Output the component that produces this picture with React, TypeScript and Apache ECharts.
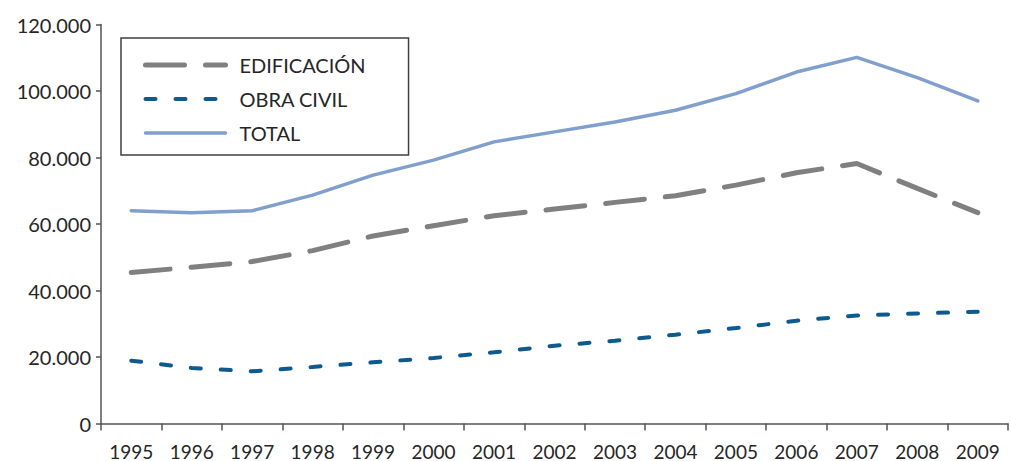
import React, { useEffect, useRef } from "react";
import * as echarts from "echarts";

const years = ["1995","1996","1997","1998","1999","2000","2001","2002","2003","2004","2005","2006","2007","2008","2009"];
const edificacion = [45400, 47000, 48700, 52000, 56400, 59500, 62500, 64500, 66500, 68500, 71700, 75400, 78200, 70700, 63400];
const obraCivil = [18900, 16700, 15700, 17000, 18400, 19700, 21400, 23400, 24900, 26700, 28700, 30900, 32500, 33100, 33600];
const total = [64000, 63400, 64000, 68700, 74700, 79200, 84700, 87700, 90700, 94200, 99200, 105700, 110100, 104000, 97000];

const FONT = "Lato";
const TEXT = "#262626";
const AXIS = "#555555";

function fmt(v: number): string {
  return String(v).replace(/\B(?=(\d{3})+(?!\d))/g, ".");
}

export default function App() {
  const ref = useRef<HTMLDivElement>(null);
  useEffect(() => {
    if (!ref.current) return;
    const chart = echarts.init(ref.current, undefined, { renderer: "svg" });
    chart.setOption({
      animation: false,
      backgroundColor: "#ffffff",
      grid: { left: 101, right: 3, top: 24.5, bottom: 37.5, containLabel: false },
      legend: {
        orient: "vertical",
        left: 121,
        top: 38,
        itemWidth: 80,
        itemHeight: 20,
        itemGap: 14,
        padding: [17, 43, 12, 22],
        borderColor: "#404040",
        borderWidth: 1.5,
        backgroundColor: "#ffffff",
        itemStyle: { opacity: 0 },
        lineStyle: { width: "inherit", type: "inherit", cap: "round" },
        textStyle: { fontFamily: FONT, fontSize: 20, color: TEXT, padding: [0, 0, 0, 9] },
        data: ["EDIFICACIÓN", "OBRA CIVIL", "TOTAL"],
      },
      xAxis: {
        type: "category",
        data: years,
        boundaryGap: true,
        axisLine: { lineStyle: { color: AXIS, width: 1.5 } },
        axisTick: { show: true, length: 7, lineStyle: { color: AXIS, width: 1.5 } },
        axisLabel: { fontFamily: FONT, fontSize: 19, color: TEXT, margin: 18, interval: 0 },
        splitLine: { show: false },
      },
      yAxis: {
        type: "value",
        min: 0,
        max: 120000,
        interval: 20000,
        axisLine: { show: true, lineStyle: { color: AXIS, width: 1.5 } },
        axisTick: { show: true, length: 5, lineStyle: { color: AXIS, width: 1.5 } },
        axisLabel: { fontFamily: FONT, fontSize: 20, color: TEXT, margin: 10, formatter: (v: number) => fmt(v) },
        splitLine: { show: false },
      },
      series: [
        {
          name: "EDIFICACIÓN",
          type: "line",
          data: edificacion,
          symbol: "none",
          lineStyle: { color: "#808080", width: 5, type: [39, 21], cap: "round" },
          itemStyle: { color: "#808080" },
        },
        {
          name: "OBRA CIVIL",
          type: "line",
          data: obraCivil,
          symbol: "none",
          lineStyle: { color: "#0d5a8e", width: 4, type: [10, 20], cap: "round" },
          itemStyle: { color: "#0d5a8e" },
        },
        {
          name: "TOTAL",
          type: "line",
          data: total,
          symbol: "none",
          lineStyle: { color: "#809fcc", width: 3.5, cap: "round", join: "round" },
          itemStyle: { color: "#809fcc" },
        },
      ],
    });
    return () => chart.dispose();
  }, []);
  return (
    <div
      ref={ref}
      style={{ position: "fixed", left: 0, top: 0, width: 1011, height: 461, background: "#fff" }}
    />
  );
}
